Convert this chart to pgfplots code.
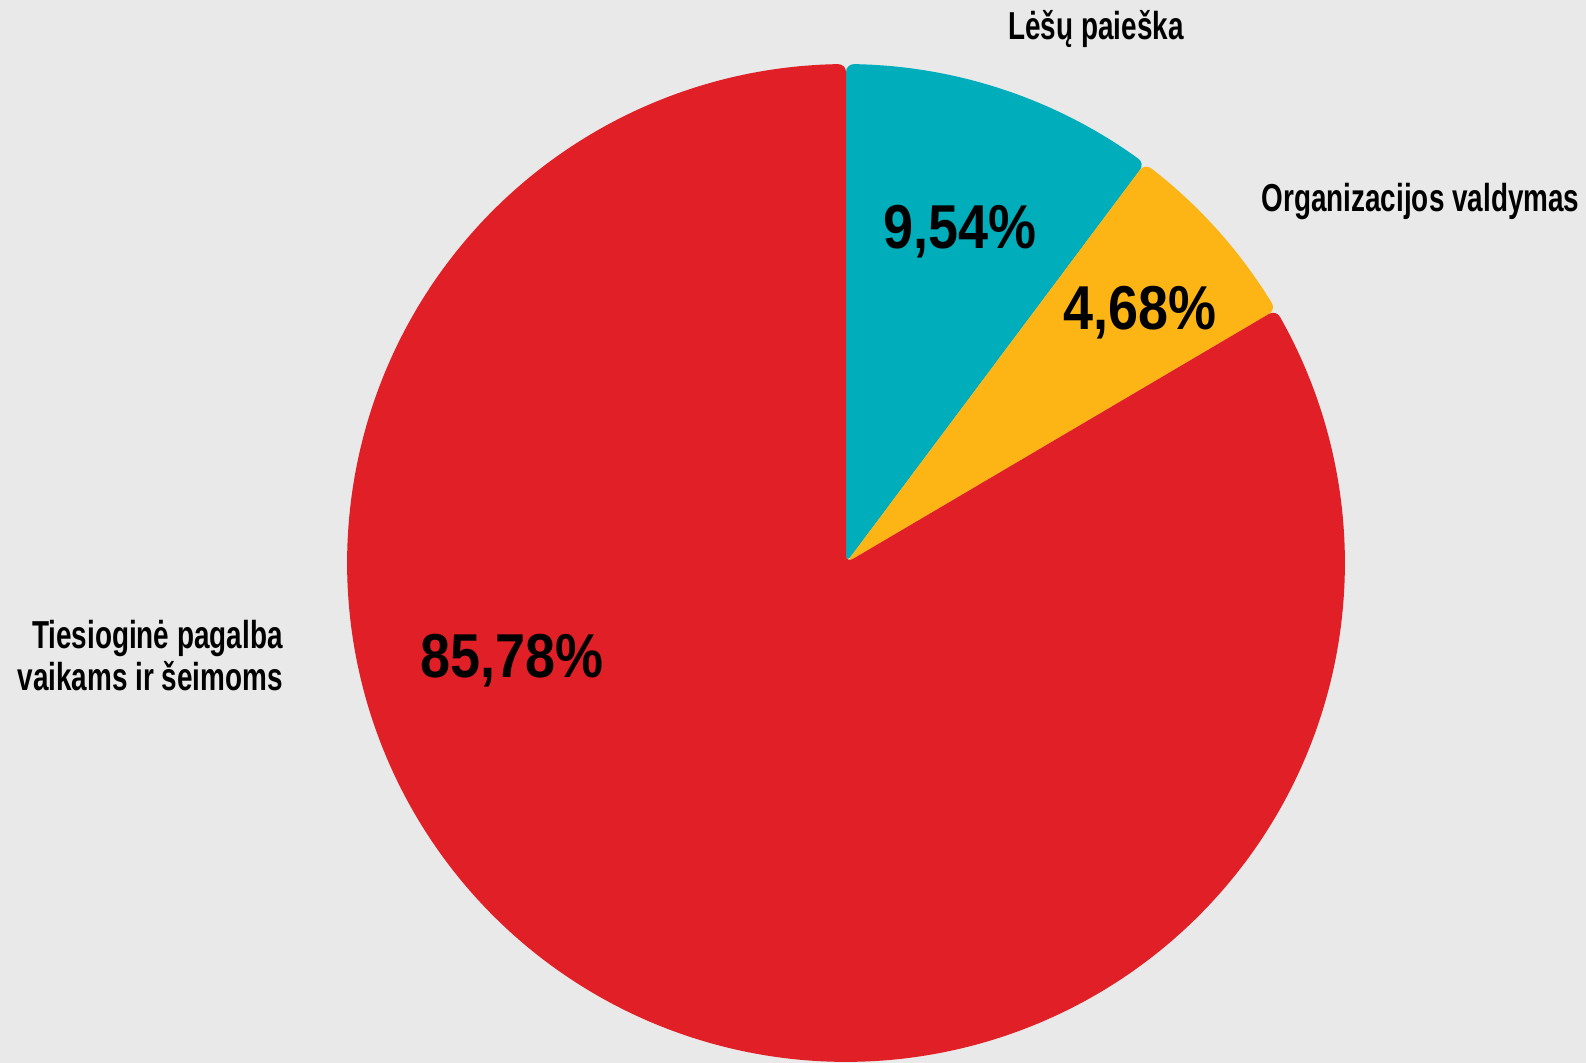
\documentclass[border=0pt]{standalone}
\usepackage{pgfplots}
\pgfplotsset{compat=1.18}
\usepackage{fontspec}
\setmainfont{Liberation Sans}
\newfontfamily\labfont{Liberation Sans}[FakeStretch=0.715]
\newfontfamily\numfont{Liberation Sans}[FakeStretch=0.87]
\definecolor{bg}{HTML}{E9E9E9}
\definecolor{pred}{HTML}{E01F26}
\definecolor{pteal}{HTML}{00ADBB}
\definecolor{pyel}{HTML}{FDB515}
% slice shares as drawn (percent)
\def\valA{10.22}% Lesu paieska
\def\valB{6.31}% Organizacijos valdymas
\def\valC{83.47}% Tiesiogine pagalba
\pgfmathsetmacro\aA{90}
\pgfmathsetmacro\aB{\aA-3.6*\valA}
\pgfmathsetmacro\aC{\aB-3.6*\valB}
\pgfmathsetmacro\aD{\aC-3.6*\valC}
\def\cx{846}
\def\cy{500}
\def\rr{499}
\begin{document}
\begin{tikzpicture}
\begin{axis}[hide axis, scale only axis, width=793pt, height=531.5pt,
  xmin=0, xmax=1586, ymin=0, ymax=1063, clip=false]
\addplot[fill=bg, draw=none] coordinates {(0,0) (1586,0) (1586,1063) (0,1063)} -- cycle;
\addplot[fill=pteal, draw=none, rounded corners=4pt, domain=\aB:\aA, samples=20]
  ({\cx+\rr*cos(x)}, {\cy+\rr*sin(x)}) -- (\cx,\cy) -- cycle;
\addplot[fill=pyel, draw=none, rounded corners=4pt, domain=\aC:\aB, samples=12]
  ({\cx+\rr*cos(x)}, {\cy+\rr*sin(x)}) -- (\cx,\cy) -- cycle;
\addplot[fill=pred, draw=none, rounded corners=4pt, domain=\aD:\aC, samples=150]
  ({\cx+\rr*cos(x)}, {\cy+\rr*sin(x)}) -- (\cx,\cy) -- cycle;
% category labels
\node[anchor=base, inner sep=0pt, font=\labfont\bfseries\fontsize{19.5}{22}\selectfont] at (1096,1023) {Lėšų paieška};
\node[anchor=base, inner sep=0pt, font=\labfont\bfseries\fontsize{19.5}{22}\selectfont] at (1420.5,851.3) {Organizacijos valdymas};
\node[anchor=base east, inner sep=0pt, font=\labfont\bfseries\fontsize{19.5}{22}\selectfont] at (283,414) {Tiesioginė pagalba};
\node[anchor=base east, inner sep=0pt, font=\labfont\bfseries\fontsize{19.5}{22}\selectfont] at (283,372) {vaikams ir šeimoms};
% value labels
\node[anchor=base, inner sep=0pt, font=\numfont\bfseries\fontsize{31}{36}\selectfont] at (512,385) {85,78\%};
\node[anchor=base, inner sep=0pt, font=\numfont\bfseries\fontsize{31}{36}\selectfont] at (960,814) {9,54\%};
\node[anchor=base, inner sep=0pt, font=\numfont\bfseries\fontsize{31}{36}\selectfont] at (1139.5,733) {4,68\%};
\end{axis}
\end{tikzpicture}
\end{document}
